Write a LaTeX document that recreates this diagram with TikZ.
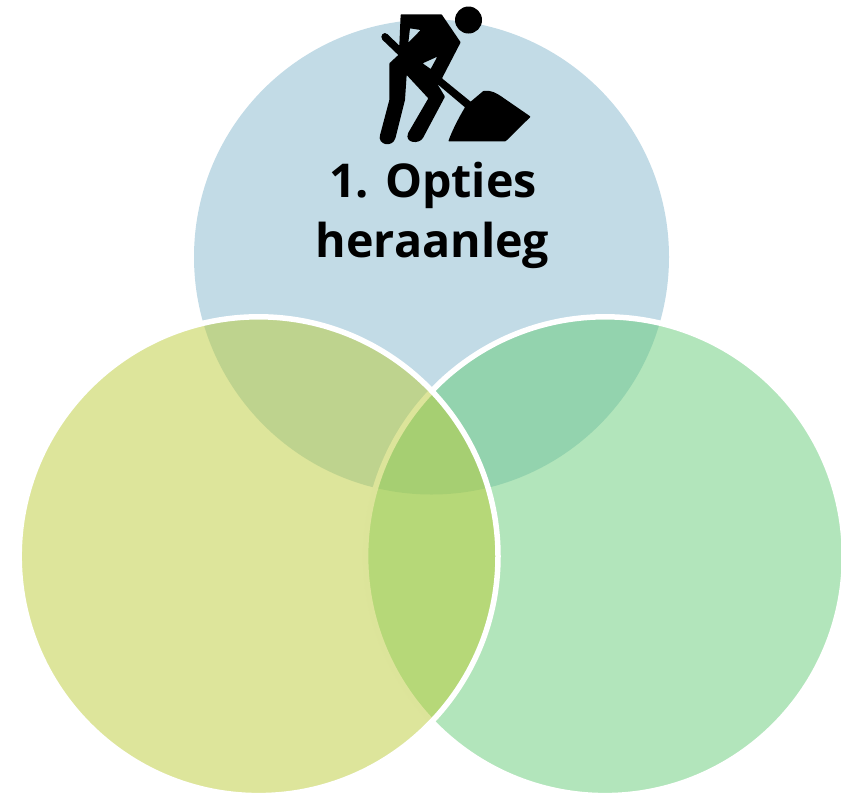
\documentclass[tikz,border=0pt]{standalone}
\usepackage{fontspec}
\setmainfont{Open Sans}
\definecolor{topc}{HTML}{85B7CD}
\definecolor{leftc}{HTML}{BBCB37}
\definecolor{rightc}{HTML}{65CB77}
\tikzset{
  vennleaf/.style={fill opacity=.5,draw=none},
  vennedge/.style={draw=white,line width=5.5pt,fill=none},
  title/.style={font=\fontsize{46.6}{56}\selectfont\bfseries,anchor=base,inner sep=0pt,text=black}
}
\begin{document}
\begin{tikzpicture}[x=1pt,y=-1pt]
\useasboundingbox (0,0) rectangle (841,793);
\clip (0,0) rectangle (841,793);
\coordinate (ct) at (431.5,257);
\coordinate (cl) at (258.6,556.2);
\coordinate (cr) at (605,556.2);
\fill[topc,vennleaf] (ct) circle [radius=237.5pt];
\fill[rightc,vennleaf] (cr) circle [radius=239.4pt];
\draw[vennedge] (cr) circle [radius=239.4pt];
\fill[leftc,vennleaf] (cl) circle [radius=239.4pt];
\draw[vennedge] (cl) circle [radius=239.4pt];
\fill[black] (468.5,20) circle [radius=13.5pt];
\begin{scope}[shift={(360,0)},x=.3333pt,y=-.3333pt]
\fill[black,even odd rule,rounded corners=.6pt]
  (122,43) -- (245,43) -- (302,127) -- (246,235) -- (332,305) -- (370,273)
  .. controls (395,270) and (410,280) .. (425,290) -- (512,350) -- (437,424) -- (265,424)
  .. controls (275,395) and (295,355) .. (315,322) -- (232,252) -- (255,290) -- (190,412)
  .. controls (178,434) and (132,430) .. (145,398) -- (205,295) -- (140,225) -- (135,300) -- (107,412)
  .. controls (98,445) and (50,435) .. (61,402) -- (88,300) -- (88,190) -- (115,165) -- (68,120)
  .. controls (58,108) and (72,92) .. (84,104) -- (118,137) -- cycle
  (150,85) -- (182,90) -- (145,128) -- cycle
  (232,170) -- (188,190) -- (212,207) -- cycle;
\end{scope}
\node[title] (l1) at (433,197) {1. Opties};
\node[title] (l2) at (432.5,257) {heraanleg};
\end{tikzpicture}
\end{document}
